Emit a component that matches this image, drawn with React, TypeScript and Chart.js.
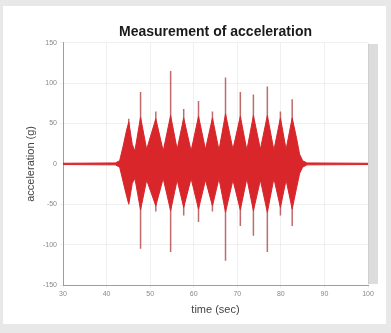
import React, { useEffect, useRef } from "react";
import { Chart, registerables } from "chart.js";

Chart.register(...registerables);

// Envelope of the dense acceleration signal (time in s, acceleration in g)
const envTime = [30, 42, 43, 43.8, 44.6, 45.1, 45.9, 46.5, 47.8, 49.2, 51.3, 53.0, 54.7, 56.2, 57.7, 59.4, 61.1, 62.7, 64.3, 65.8, 67.3, 69.0, 70.7, 72.2, 73.7, 75.3, 76.9, 78.4, 79.9, 81.2, 82.6, 83.6, 84.3, 85.0, 86, 100];
const envUpper = [0.8, 1.2, 4, 22, 42, 52, 24, 16, 58, 18, 56, 16, 60, 18, 57, 16, 59, 18, 57, 17, 62, 18, 59, 17, 60, 18, 60, 17, 57, 18, 57, 32, 12, 4, 1.2, 0.8];
const envLower = [-0.8, -1.2, -4, -22, -40, -50, -24, -18, -57, -20, -52, -18, -58, -20, -54, -18, -56, -20, -52, -18, -60, -20, -57, -18, -58, -20, -60, -18, -54, -20, -56, -30, -12, -4, -1.2, -0.8];

// Individual impact spikes
const spikeTime = [45.1, 47.8, 51.3, 54.7, 57.7, 61.1, 64.3, 67.3, 70.7, 73.7, 76.9, 79.9, 82.6];
const spikeUp = [56, 89, 65, 115, 68, 78, 65, 107, 89, 86, 96, 65, 80];
const spikeDown = [-47, -105, -59, -109, -64, -72, -59, -120, -77, -89, -109, -64, -77];

const xTicks = [30, 40, 50, 60, 70, 80, 90, 100];
const yTicks = [-150, -100, -50, 0, 50, 100, 150];

export default function App() {
  const ref = useRef<HTMLCanvasElement | null>(null);

  useEffect(() => {
    if (!ref.current) return;
    const upper = envTime.map((t, i) => ({ x: t, y: envUpper[i] }));
    const lower = envTime.map((t, i) => ({ x: t, y: envLower[i] }));
    const spikes: any[] = [];
    spikeTime.forEach((t, i) => {
      spikes.push({ x: t, y: spikeDown[i] });
      spikes.push({ x: t, y: spikeUp[i] });
      spikes.push({ x: t, y: null });
    });

    const chart = new Chart(ref.current, {
      type: "line",
      data: {
        datasets: [
          {
            data: upper,
            borderColor: "#d8262b",
            backgroundColor: "#d8262b",
            borderWidth: 1,
            pointRadius: 0,
            fill: "+1",
            tension: 0,
          },
          {
            data: lower,
            borderColor: "#d8262b",
            backgroundColor: "#d8262b",
            borderWidth: 1,
            pointRadius: 0,
            fill: false,
            tension: 0,
          },
          {
            data: spikes,
            borderColor: "rgba(175,70,70,0.8)",
            borderWidth: 1.5,
            pointRadius: 0,
            fill: false,
            spanGaps: false,
          },
        ],
      },
      options: {
        animation: false,
        responsive: false,
        layout: { padding: { left: 0, right: 10, top: 0, bottom: 0 } },
        plugins: {
          legend: { display: false },
          tooltip: { enabled: false },
          title: {
            display: true,
            fullSize: false,
            text: "Measurement of acceleration",
            color: "#1a1a1a",
            font: { family: "Liberation Sans, Arial", size: 14, weight: "bold" },
            padding: { top: 0, bottom: 2 },
          },
        },
        scales: {
          x: {
            type: "linear",
            min: 30,
            max: 100,
            afterBuildTicks: (s: any) => {
              s.ticks = xTicks.map((v) => ({ value: v }));
            },
            afterFit: (s: any) => {
              s.height = 35;
            },
            ticks: {
              color: "#888",
              font: { family: "Liberation Sans, Arial", size: 7 },
              padding: 2,
              maxRotation: 0,
            },
            grid: {
              color: "rgba(0,0,0,0.06)",
              tickLength: 3,
            },
            border: { color: "#a89a9a", width: 1 },
            title: {
              display: true,
              text: "time (sec)",
              color: "#444",
              font: { family: "Liberation Sans, Arial", size: 11 },
              padding: { top: 0, bottom: 3 },
            },
          },
          y: {
            type: "linear",
            min: -150,
            max: 150,
            afterBuildTicks: (s: any) => {
              s.ticks = yTicks.map((v) => ({ value: v }));
            },
            afterFit: (s: any) => {
              s.width = 41;
            },
            ticks: {
              color: "#888",
              font: { family: "Liberation Sans, Arial", size: 7 },
              padding: 3,
            },
            grid: {
              color: "rgba(0,0,0,0.06)",
              tickLength: 3,
            },
            border: { color: "#a89a9a", width: 1 },
            title: {
              display: true,
              text: "acceleration (g)",
              color: "#444",
              font: { family: "Liberation Sans, Arial", size: 11 },
              padding: { top: 2, bottom: 0 },
            },
          },
        },
      },
    });
    return () => chart.destroy();
  }, []);

  return (
    <div style={{ position: "fixed", left: 0, top: 0, width: 391, height: 333, background: "#e8e8e8" }}>
      <div style={{ position: "absolute", left: 3, top: 6, width: 383, height: 318, background: "#ffffff" }} />
      <div style={{ position: "absolute", left: 368, top: 44, width: 10, height: 240, background: "#dcdcdc" }} />
      <canvas
        ref={ref}
        width={356}
        height={296}
        style={{ position: "absolute", left: 22, top: 24, width: 356, height: 296 }}
      />
    </div>
  );
}
